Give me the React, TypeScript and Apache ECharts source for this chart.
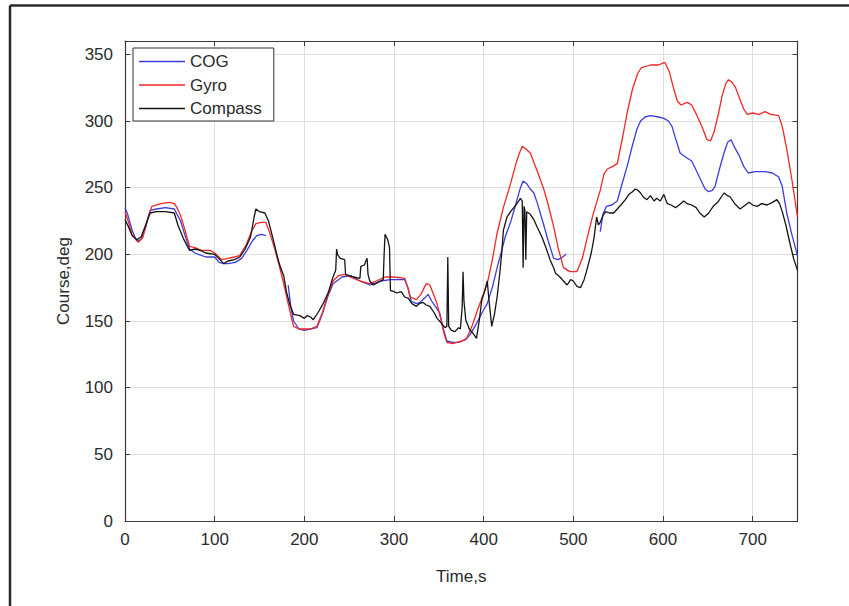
import React, { useEffect, useRef } from "react";
import * as echarts from "echarts";

const seriesNames = ["COG", "Gyro", "Compass"];
const xTicks = [0, 100, 200, 300, 400, 500, 600, 700];
const yTicks = [0, 50, 100, 150, 200, 250, 300, 350];

const cogTime = [0, 3, 8, 13, 18, 23, 28, 35, 45, 55, 58, 62, 67, 72, 78, 82, 90, 100, 105, 110, 115, 123, 130, 136, 142, 147, 152, 157, 158,
  182, 185, 188, 194, 200, 207, 214, 220, 226, 232, 238, 242, 252, 262, 273, 285, 296, 305, 312, 316, 319, 325, 329, 334, 338, 342, 347, 351, 355, 359, 365, 372, 380, 385, 392, 398, 404, 410, 415, 419, 424, 430, 436, 441, 444, 448, 452, 456, 460, 467, 472, 478, 483, 488, 492, 493,
  530, 533, 537, 543, 549, 554, 560, 566, 571, 575, 580, 586, 595, 601, 606, 610, 614, 619, 625, 632, 637, 642, 647, 651, 655, 658, 663, 668, 672, 676, 680, 685, 690, 695, 703, 714, 722, 729, 733, 738, 744, 750];
const cogCourse = [235, 230, 218, 210, 211, 220, 233, 234, 235, 234, 230, 225, 214, 204, 201, 200, 198, 198, 194, 193, 193, 194, 197, 203, 210, 214, 215, 214, null,
  177, 160, 150, 144, 143, 144, 145, 155, 168, 178, 181, 183, 184, 180, 177, 180, 181, 181, 181, 174, 165, 163, 164, 167, 170, 165, 160, 156, 144, 135, 134, 134, 136, 140, 148, 156, 163, 176, 190, 200, 213, 224, 238, 250, 255, 253, 249, 246, 238, 222, 210, 197, 196, 198, 200, null,
  217, 230, 236, 237, 240, 252, 266, 282, 294, 300, 303, 304, 303, 302, 300, 296, 287, 276, 273, 270, 263, 256, 249, 247, 248, 251, 264, 276, 284, 286, 280, 274, 266, 261, 262, 262, 261, 258, 251, 231, 214, 199];

const gyroTime = [0, 3, 8, 15, 20, 25, 30, 40, 50, 55, 58, 62, 67, 72, 78, 85, 95, 100, 108, 115, 122, 128, 135, 141, 146, 152, 157, 162, 167, 173, 178, 183, 188, 194, 200, 207, 214, 220, 226, 232, 238, 245, 251, 262, 273, 280, 290, 300, 312, 315, 318, 325, 330, 336, 340, 344, 348, 352, 356, 359, 365, 370, 376, 381, 387, 392, 398, 404, 410, 415, 422, 430, 436, 440, 443, 447, 452, 460, 467, 472, 478, 483, 489, 496, 504, 510, 515, 522, 530, 534, 538, 544, 549, 555, 560, 566, 572, 576, 586, 595, 602, 607, 612, 616, 620, 627, 632, 638, 644, 649, 653, 657, 662, 666, 670, 673, 677, 681, 686, 690, 694, 700, 707, 714, 720, 729, 733, 738, 744, 750];
const gyroCourse = [232, 226, 215, 209, 213, 226, 236, 238, 239, 238, 235, 229, 218, 206, 205, 203, 203, 201, 196, 197, 198, 199, 207, 217, 223, 224, 224, 215, 204, 189, 175, 160, 146, 144, 144, 144, 146, 156, 169, 180, 184, 185, 183, 180, 178, 180, 183, 183, 182, 176, 168, 166, 170, 178, 177, 170, 163, 152, 140, 134, 133, 134, 135, 137, 146, 156, 167, 178, 197, 216, 235, 253, 268, 276, 281, 279, 276, 262, 249, 237, 221, 205, 190, 187, 187, 197, 211, 230, 248, 260, 264, 266, 268, 288, 306, 324, 336, 340, 342, 342, 344, 337, 324, 315, 312, 314, 312, 304, 295, 286, 285, 292, 306, 319, 328, 331, 329, 325, 316, 309, 305, 306, 305, 307, 305, 304, 296, 279, 255, 228];

const compassTime = [0, 3, 8, 13, 18, 23, 28, 35, 45, 55, 59, 65, 72, 78, 84, 90, 100, 106, 110, 115, 122, 128, 134, 140, 144, 146, 150, 156, 160, 165, 170, 173, 177, 180, 184, 188, 195, 200, 203, 207, 210, 215, 221, 227, 232, 235, 236, 237, 240, 245, 246, 250, 255, 262, 263, 267, 268, 270, 271, 273, 277, 282, 288, 289, 290, 293, 295, 296, 300, 303, 308, 312, 316, 320, 325, 328, 332, 336, 340, 345, 348, 352, 357, 359, 360, 361, 364, 368, 372, 374, 376, 377, 378, 380, 384, 389, 392, 395, 398, 401, 404, 406, 409, 412, 415, 418, 420, 422, 426, 430, 436, 441, 443, 444, 445, 446, 447, 448, 452, 456, 460, 465, 470, 474, 478, 480, 485, 489, 493, 497, 500, 504, 508, 512, 515, 520, 523, 526, 528, 530, 533, 536, 540, 545, 549, 553, 558, 562, 566, 569, 572, 575, 578, 582, 586, 590, 593, 597, 601, 603, 605, 609, 614, 618, 623, 627, 632, 637, 641, 646, 651, 656, 661, 665, 668, 672, 675, 680, 686, 690, 696, 700, 705, 710, 716, 722, 727, 730, 733, 737, 742, 746, 750];
const compassCourse = [226, 222, 214, 211, 213, 222, 231, 232, 232, 231, 222, 212, 203, 204, 203, 201, 200, 196, 193, 195, 196, 198, 204, 213, 228, 234, 232, 231, 225, 212, 198, 191, 184, 172, 162, 155, 154, 152, 154, 153, 151, 156, 163, 172, 183, 188, 204, 200, 197, 196, 185, 184, 183, 182, 191, 192, 194, 197, 185, 180, 177, 179, 181, 200, 215, 211, 205, 173, 172, 171, 172, 168, 167, 163, 161, 163, 164, 162, 161, 156, 152, 149, 145, 146, 198, 146, 143, 142, 145, 144, 160, 187, 165, 151, 144, 140, 137, 150, 166, 172, 180, 165, 146, 155, 168, 186, 200, 218, 228, 232, 237, 242, 240, 190, 236, 233, 196, 232, 230, 226, 220, 213, 204, 196, 190, 186, 183, 180, 177, 181, 180, 176, 175, 181, 188, 201, 212, 228, 222, 224, 229, 232, 231, 231, 234, 237, 241, 245, 247, 249, 248, 246, 243, 241, 244, 240, 242, 240, 245, 241, 238, 237, 235, 237, 240, 238, 237, 235, 231, 228, 231, 236, 239, 243, 246, 244, 243, 238, 234, 236, 239, 237, 236, 238, 237, 239, 241, 238, 232, 222, 207, 196, 188];

const colors = ["#3c3cdc", "#f02828", "#141414"];

const zip = (t: number[], v: (number | null)[]) => t.map((x, i) => [x, v[i] === null ? "-" : v[i]]);

export default function App() {
  const ref = useRef<HTMLDivElement>(null);
  useEffect(() => {
    if (!ref.current) return;
    const chart = echarts.init(ref.current, undefined, { renderer: "svg" });
    const font = "'Liberation Sans', Arial, sans-serif";
    const axisColor = "#3a3a3a";
    const labelColor = "#2b2b2b";
    const baseX = {
      type: "value",
      min: 0,
      max: 750,
      interval: 100,
      axisLine: { show: true, onZero: false, lineStyle: { color: axisColor, width: 1.2 } },
      axisTick: { show: true, inside: true, length: 5, lineStyle: { color: axisColor } },
    };
    const baseY = {
      type: "value",
      min: 0,
      max: 360,
      interval: 50,
      axisLine: { show: true, onZero: false, lineStyle: { color: axisColor, width: 1.2 } },
      axisTick: { show: true, inside: true, length: 5, lineStyle: { color: axisColor } },
    };
    chart.setOption({
      animation: false,
      backgroundColor: "#ffffff",
      textStyle: { fontFamily: font },
      grid: { left: 125, top: 41, right: 51.5, bottom: 85, containLabel: false },
      legend: {
        data: seriesNames,
        orient: "vertical",
        left: 133,
        top: 48,
        padding: [5, 12, 4, 6],
        icon: "rect",
        itemWidth: 46,
        itemHeight: 1.6,
        itemGap: 6.5,
        backgroundColor: "#ffffff",
        borderColor: "#333333",
        borderWidth: 1,
        textStyle: { fontSize: 17, color: labelColor, fontFamily: font },
      },
      xAxis: [
        {
          ...baseX,
          position: "bottom",
          name: "Time,s",
          nameLocation: "middle",
          nameGap: 47,
          nameTextStyle: { fontSize: 17, color: labelColor, fontFamily: font },
          axisLabel: { show: true, showMaxLabel: false, fontSize: 17, color: labelColor, margin: 10, fontFamily: font },
          splitLine: { show: true, lineStyle: { color: "#dedede", width: 1 } },
        },
        {
          ...baseX,
          position: "top",
          axisLabel: { show: false },
          splitLine: { show: false },
        },
      ],
      yAxis: [
        {
          ...baseY,
          position: "left",
          name: "Course,deg",
          nameLocation: "middle",
          nameGap: 53,
          nameTextStyle: { fontSize: 17, color: labelColor, fontFamily: font },
          axisLabel: { show: true, showMaxLabel: false, fontSize: 17, color: labelColor, margin: 12, fontFamily: font },
          splitLine: { show: true, lineStyle: { color: "#dedede", width: 1 } },
        },
        {
          ...baseY,
          position: "right",
          axisLabel: { show: false },
          splitLine: { show: false },
        },
      ],
      graphic: [
        { type: "line", shape: { x1: 10, y1: 5.5, x2: 849, y2: 5.5 }, style: { stroke: "#2a2a2a", lineWidth: 2.5 } },
        { type: "line", shape: { x1: 10, y1: 5.5, x2: 10, y2: 606 }, style: { stroke: "#2a2a2a", lineWidth: 2.5 } },
      ],
      series: [
        { name: seriesNames[0], type: "line", data: zip(cogTime, cogCourse), color: colors[0], symbol: "none", connectNulls: false, lineStyle: { width: 1.3, color: colors[0] } },
        { name: seriesNames[1], type: "line", data: zip(gyroTime, gyroCourse), color: colors[1], symbol: "none", lineStyle: { width: 1.3, color: colors[1] } },
        { name: seriesNames[2], type: "line", data: zip(compassTime, compassCourse), color: colors[2], symbol: "none", lineStyle: { width: 1.3, color: colors[2] } },
      ],
    });
    return () => chart.dispose();
  }, []);
  return <div ref={ref} style={{ position: "absolute", left: 0, top: 0, width: 849, height: 606 }} />;
}
